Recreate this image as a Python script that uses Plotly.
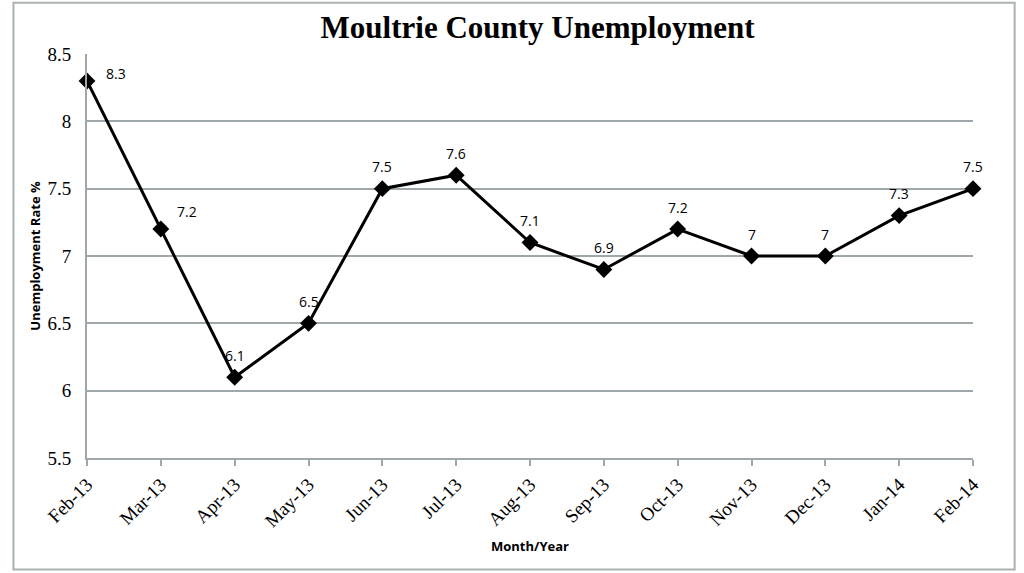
import plotly.graph_objects as go

months = ["Feb-13", "Mar-13", "Apr-13", "May-13", "Jun-13", "Jul-13", "Aug-13",
          "Sep-13", "Oct-13", "Nov-13", "Dec-13", "Jan-14", "Feb-14"]
rates = [8.3, 7.2, 6.1, 6.5, 7.5, 7.6, 7.1, 6.9, 7.2, 7.0, 7.0, 7.3, 7.5]
y_ticks = [5.5, 6.0, 6.5, 7.0, 7.5, 8.0, 8.5]
y_tick_text = ["5.5", "6", "6.5", "7", "7.5", "8", "8.5"]

grid_color = "#9ea8ab"
serif = "Liberation Serif"
sans = "Open Sans"

fig = go.Figure()
fig.add_trace(go.Scatter(
    x=list(range(len(months))), y=rates,
    mode="lines+markers",
    line=dict(color="black", width=3),
    marker=dict(symbol="diamond", size=13, color="black"),
    cliponaxis=False,
    showlegend=False,
))

label_shifts = {0: (29, 7), 1: (26, 18)}
annotations = []
for i, v in enumerate(rates):
    xs, ys = label_shifts.get(i, (0, 22))
    annotations.append(dict(
        x=i, y=v, xref="x", yref="y", text=f"{v:g}", showarrow=False,
        xshift=xs, yshift=ys,
        font=dict(family=sans, size=14, color="black"),
    ))

fig.update_layout(
    width=1024, height=573,
    margin=dict(l=87, r=51, t=54, b=115),
    paper_bgcolor="white", plot_bgcolor="white",
    title=dict(text="<b>Moultrie County Unemployment</b>", x=0.525, xanchor="center",
               y=0.952, yanchor="middle",
               font=dict(family=serif, size=31, color="black")),
    xaxis=dict(
        range=[0, 12], tickmode="array", tickvals=list(range(len(months))), ticktext=months,
        tickangle=-45, showgrid=False, zeroline=False,
        showline=True, linecolor=grid_color, linewidth=2,
        ticks="outside", ticklen=6, tickcolor=grid_color, tickwidth=2,
        tickfont=dict(family=serif, size=19, color="black"),
        title=dict(text="<b>Month/Year</b>", font=dict(family=sans, size=13, color="black"), standoff=12),
    ),
    yaxis=dict(
        range=[5.5, 8.5], tickmode="array", tickvals=y_ticks, ticktext=y_tick_text,
        showgrid=True, gridcolor=grid_color, gridwidth=1.5, zeroline=False,
        showline=True, linecolor=grid_color, linewidth=2,
        ticks="outside", ticklen=10, tickcolor="rgba(0,0,0,0)",
        tickfont=dict(family=serif, size=19, color="black"),
        title=dict(text="<b>Unemployment Rate %</b>", font=dict(family=sans, size=13, color="black"), standoff=4),
    ),
    annotations=annotations,
    shapes=[dict(type="rect", xref="paper", yref="paper", x0=-0.083, x1=1.047, y0=-0.276, y1=1.127,
                 line=dict(color="#a9b1b3", width=2))],
)

fig.write_html("out.html")
